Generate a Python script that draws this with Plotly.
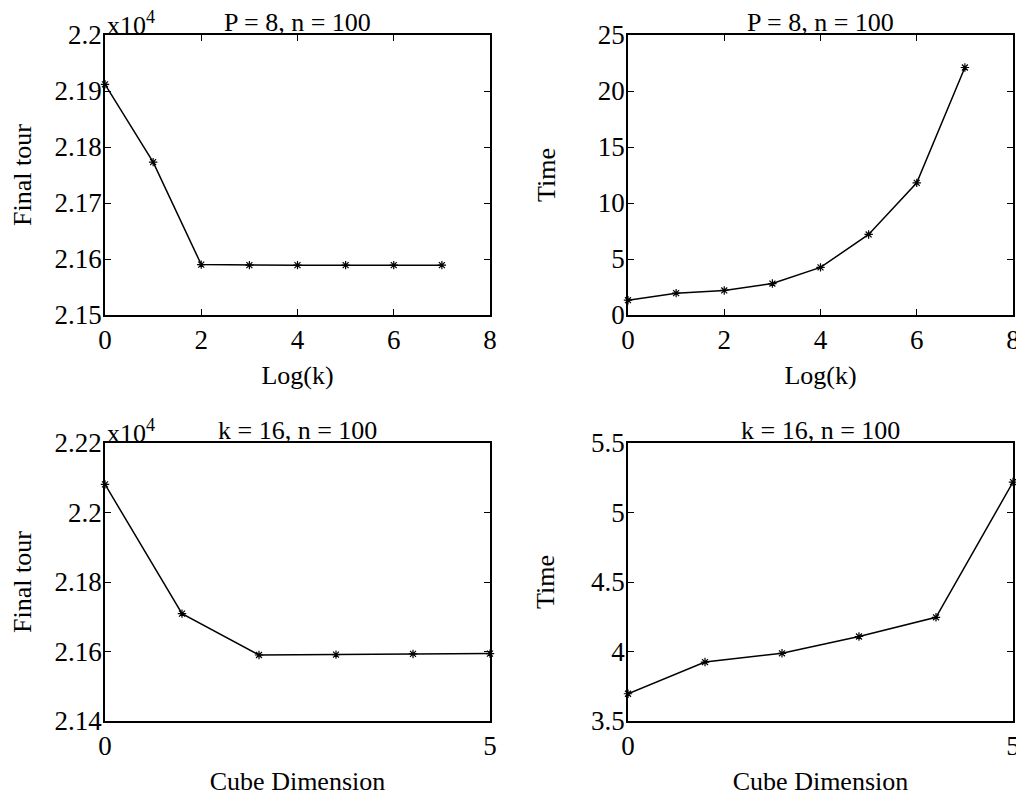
import plotly.graph_objects as go

# ---- data ----
logk = [0, 1, 2, 3, 4, 5, 6, 7]
tour_p8 = [2.1912, 2.1773, 2.1590, 2.1589, 2.1589, 2.1589, 2.1589, 2.1589]  # x10^4
time_p8 = [1.32, 1.95, 2.19, 2.81, 4.25, 7.19, 11.8, 22.1]

cube_dim = [0, 1, 2, 3, 4, 5]
tour_k16 = [2.2081, 2.1709, 2.1590, 2.1591, 2.1593, 2.1594]  # x10^4
time_k16 = [3.696, 3.924, 3.987, 4.108, 4.246, 5.219]

tl_y_vals = [2.15, 2.16, 2.17, 2.18, 2.19, 2.2]
tl_y_text = ["2.15", "2.16", "2.17", "2.18", "2.19", "2.2"]
tr_y_vals = [0, 5, 10, 15, 20, 25]
bl_y_vals = [2.14, 2.16, 2.18, 2.2, 2.22]
bl_y_text = ["2.14", "2.16", "2.18", "2.2", "2.22"]
br_y_vals = [3.5, 4, 4.5, 5, 5.5]
br_y_text = ["3.5", "4", "4.5", "5", "5.5"]
top_x_vals = [0, 2, 4, 6, 8]
bot_x_vals = [0, 5]

FONT = "Liberation Serif"
FS_TICK = 27
FS = 26
W, H = 1024, 798
OFF = 8  # page offset of the figure (body margin)

fig = go.Figure()

line_style = dict(color="black", width=1.5)
marker_style = dict(symbol="asterisk-open", size=7, color="black",
                    line=dict(color="black", width=1.2))

for xs, ys, xa, ya in [(logk, tour_p8, "x", "y"), (logk, time_p8, "x2", "y2"),
                       (cube_dim, tour_k16, "x3", "y3"),
                       (cube_dim, time_k16, "x4", "y4")]:
    fig.add_trace(go.Scatter(x=xs, y=ys, mode="lines+markers",
                             line=line_style, marker=marker_style,
                             xaxis=xa, yaxis=ya, showlegend=False,
                             cliponaxis=False))

def px_x(a, b):
    return [(a - OFF) / W, (b - OFF) / W]

def px_y(top, bottom):
    return [1 - (bottom - OFF) / H, 1 - (top - OFF) / H]

axis_common = dict(showline=True, linecolor="black", linewidth=1.5,
                   mirror="ticks", ticks="inside", ticklen=6,
                   tickcolor="black", tickwidth=1.2, showgrid=False,
                   zeroline=False, automargin=False,
                   tickfont=dict(family=FONT, size=FS_TICK, color="black"))

def xax(dom, anchor, rng, vals, title, standoff):
    d = dict(axis_common)
    d.update(domain=dom, anchor=anchor, range=rng, tickvals=vals,
             ticktext=[str(v) for v in vals],
             title=dict(text=title, standoff=standoff,
                        font=dict(family=FONT, size=FS, color="black")))
    return d

def yax(dom, anchor, rng, vals, text, title, standoff):
    d = dict(axis_common)
    d.update(domain=dom, anchor=anchor, range=rng, tickvals=vals,
             ticktext=text, ticklabelstandoff=-4,
             title=dict(text=title, standoff=standoff,
                        font=dict(family=FONT, size=FS, color="black")))
    return d

dx_left = px_x(105, 490)
dx_right = px_x(628, 1013)
dy_top = px_y(35, 315)
dy_bot = px_y(443, 721)

fig.update_layout(
    width=W, height=H,
    margin=dict(l=0, r=0, t=0, b=0, autoexpand=False),
    paper_bgcolor="white", plot_bgcolor="white",
    font=dict(family=FONT, size=FS, color="black"),
    xaxis=xax(dx_left, "y", [0, 8], top_x_vals, "Log(k)", 12),
    yaxis=yax(dy_top, "x", [2.15, 2.2], tl_y_vals, tl_y_text, "Final tour", 15),
    xaxis2=xax(dx_right, "y2", [0, 8], top_x_vals, "Log(k)", 12),
    yaxis2=yax(dy_top, "x2", [0, 25], tr_y_vals, [str(v) for v in tr_y_vals], "Time", 35),
    xaxis3=xax(dx_left, "y3", [0, 5], bot_x_vals, "Cube Dimension", 12),
    yaxis3=yax(dy_bot, "x3", [2.14, 2.22], bl_y_vals, bl_y_text, "Final tour", 15),
    xaxis4=xax(dx_right, "y4", [0, 5], bot_x_vals, "Cube Dimension", 12),
    yaxis4=yax(dy_bot, "x4", [3.5, 5.5], br_y_vals, br_y_text, "Time", 29),
)

titles = [
    ("P = 8, n = 100", dx_left, dy_top),
    ("P = 8, n = 100", dx_right, dy_top),
    ("k = 16, n = 100", dx_left, dy_bot),
    ("k = 16, n = 100", dx_right, dy_bot),
]
for text, dx, dy in titles:
    fig.add_annotation(text=text, x=(dx[0] + dx[1]) / 2, y=dy[1],
                       xref="paper", yref="paper", xanchor="center",
                       yanchor="bottom", showarrow=False, yshift=-4,
                       font=dict(family=FONT, size=FS, color="black"))

for dx, dy in [(dx_left, dy_top), (dx_left, dy_bot)]:
    fig.add_annotation(text="x10<sup>4</sup>", x=dx[0], y=dy[1],
                       xref="paper", yref="paper", xanchor="left",
                       yanchor="bottom", showarrow=False, yshift=-7,
                       font=dict(family=FONT, size=FS, color="black"))

fig.write_html("out.html")
